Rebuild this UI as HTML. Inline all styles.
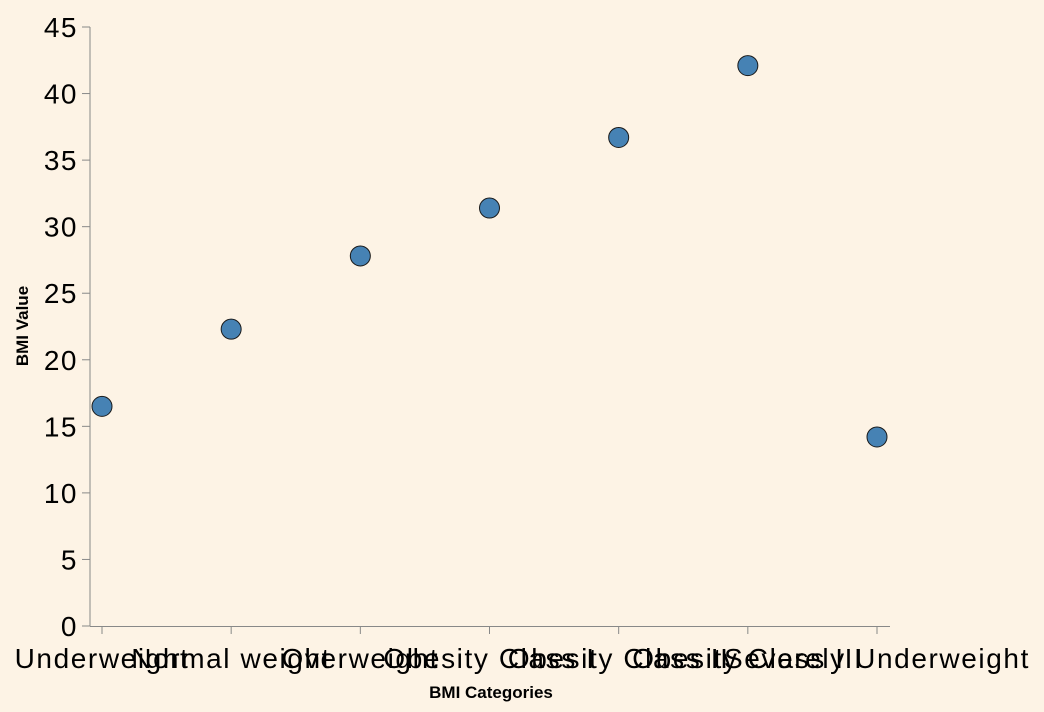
<!DOCTYPE html>
<html><head><meta charset="utf-8"><style>
html,body{margin:0;padding:0;background:#fdf3e5;}
svg{display:block;font-family:"Liberation Sans",Arial,sans-serif;}
</style></head><body>
<svg id="chart" width="1044" height="712">
<rect width="1044" height="712" fill="#fdf3e5"/>
<g id="axes"></g><g id="marks"></g>
<text x="491" y="698" text-anchor="middle" font-size="17" font-weight="bold" fill="#000">BMI Categories</text>
<text transform="translate(28,326) rotate(-90)" text-anchor="middle" font-size="17" font-weight="bold" fill="#000">BMI Value</text>
</svg>
<script>
const categories = ["Underweight","Normal weight","Overweight","Obesity Class I","Obesity Class II","Obesity Class III","Severely Underweight"];
const bmiValues = [16.5, 22.3, 27.8, 31.4, 36.7, 42.1, 14.2];
const yTicks = [0,5,10,15,20,25,30,35,40,45];
const NS="http://www.w3.org/2000/svg";
const x0=90,x1=890,y0=626,y1=27,yMax=45;
const xFirst=102,xLast=877;
const xs=i=>xFirst+(xLast-xFirst)*i/(categories.length-1);
const ys=v=>y0-(v/yMax)*(y0-y1);
function mk(tag,attrs,parent){const e=document.createElementNS(NS,tag);for(const k in attrs)e.setAttribute(k,attrs[k]);parent.appendChild(e);return e;}
const ax=document.getElementById('axes'), mg=document.getElementById('marks');
let l=mk('line',{x1:x0,y1:y1,x2:x0,y2:y0,stroke:'#888'},ax);


l=mk('line',{x1:x0,y1:y0+0.5,x2:x1,y2:y0+0.5,stroke:'#888'},ax);


yTicks.forEach(t=>{
  const y=ys(t);
  const tk=mk('line',{x1:x0-8,y1:y,x2:x0,y2:y,stroke:'#888'},ax);
  
  
  const tx=mk('text',{x:x0-12,y:y+10,'text-anchor':'end','font-size':'28','letter-spacing':'1.5',fill:'#000'},ax);
  tx.textContent=t;
  
  
});
categories.forEach((c,i)=>{
  const x=xs(i);
  const tk=mk('line',{x1:x,y1:y0,x2:x,y2:y0+8,stroke:'#888'},ax);
  
  
  const tx=mk('text',{x:x,y:y0+42,'text-anchor':'middle','font-size':'28','letter-spacing':'1.6',fill:'#000'},ax);
  tx.textContent=c;
  
  
  const p=mk('circle',{cx:x,cy:ys(bmiValues[i]),r:10,fill:'#4682b4',stroke:'#1a1a1a','stroke-width':1},mg);
  
  
});
</script>
</body></html>
